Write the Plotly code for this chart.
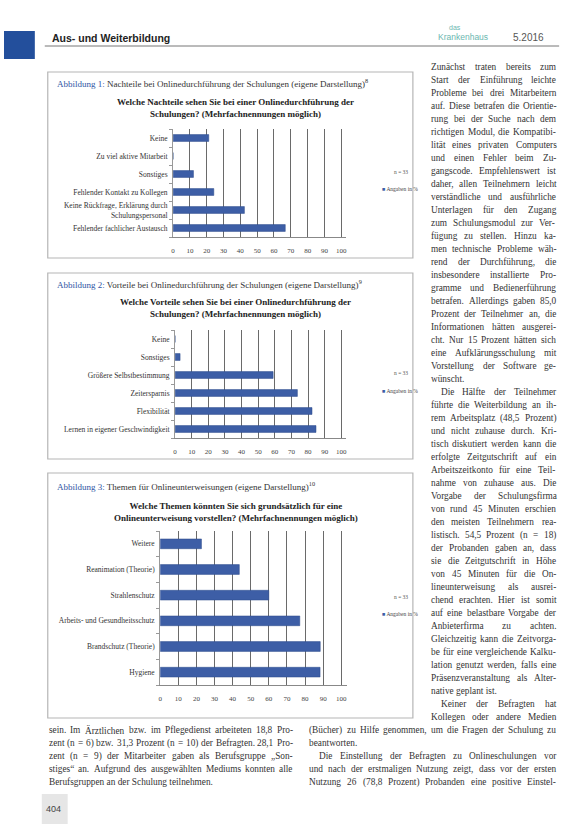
import plotly.graph_objects as go

W, H = 586, 824

# ---------------- data ----------------
cats1 = ["Keine", "Zu viel aktive Mitarbeit", "Sonstiges", "Fehlender Kontakt zu Kollegen",
         "Keine Rückfrage, Erklärung durch<br>Schulungspersonal", "Fehlender fachlicher Austausch"]
vals1 = [21.2, 0, 12.1, 24.2, 42.4, 66.7]

cats2 = ["Keine", "Sonstiges", "Größere Selbstbestimmung", "Zeitersparnis", "Flexibilität",
         "Lernen in eigener Geschwindigkeit"]
vals2 = [0, 3.0, 59.0, 73.6, 82.4, 84.8]

cats3 = ["Weitere", "Reanimation (Theorie)", "Strahlenschutz", "Arbeits- und Gesundheitsschutz",
         "Brandschutz (Theorie)", "Hygiene"]
vals3 = [22.8, 43.7, 60.0, 77.1, 88.4, 88.3]

x_ticks = [0, 10, 20, 30, 40, 50, 60, 70, 80, 90, 100]

captions = [
    "<span style='color:#2f55a4'>Abbildung 1:</span> Nachteile bei Onlinedurchführung der Schulungen (eigene Darstellung)<sup>8</sup>",
    "<span style='color:#2f55a4'>Abbildung 2:</span> Vorteile bei Onlinedurchführung der Schulungen (eigene Darstellung)<sup>9</sup>",
    "<span style='color:#2f55a4'>Abbildung 3:</span> Themen für Onlineunterweisungen (eigene Darstellung)<sup>10</sup>",
]
titles = [
    "Welche Nachteile sehen Sie bei einer Onlinedurchführung der<br>Schulungen? (Mehrfachnennungen möglich)",
    "Welche Vorteile sehen Sie bei einer Onlinedurchführung der<br>Schulungen? (Mehrfachnennungen möglich)",
    "Welche Themen könnten Sie sich grundsätzlich für eine<br>Onlineunterweisung vorstellen? (Mehrfachnennungen möglich)",
]
n_label = "n = 33"
legend_label = "Angaben in %"

# ">" = indented first line of a paragraph, "|" = last line of a paragraph (not justified)
right_col = [
    "Zunächst traten bereits zum",
    "Start der Einführung leichte",
    "Probleme bei drei Mitarbeitern",
    "auf. Diese betrafen die Orientie-",
    "rung bei der Suche nach dem",
    "richtigen Modul, die Kompatibi-",
    "lität eines privaten Computers",
    "und einen Fehler beim Zu-",
    "gangscode. Empfehlenswert ist",
    "daher, allen Teilnehmern leicht",
    "verständliche und ausführliche",
    "Unterlagen für den Zugang",
    "zum Schulungsmodul zur Ver-",
    "fügung zu stellen. Hinzu ka-",
    "men technische Probleme wäh-",
    "rend der Durchführung, die",
    "insbesondere installierte Pro-",
    "gramme und Bedienerführung",
    "betrafen. Allerdings gaben 85,0",
    "Prozent der Teilnehmer an, die",
    "Informationen hätten ausgerei-",
    "cht. Nur 15 Prozent hätten sich",
    "eine Aufklärungsschulung mit",
    "Vorstellung der Software ge-",
    "wünscht.|",
    ">Die Hälfte der Teilnehmer",
    "führte die Weiterbildung an ih-",
    "rem Arbeitsplatz (48,5 Prozent)",
    "und nicht zuhause durch. Kri-",
    "tisch diskutiert werden kann die",
    "erfolgte Zeitgutschrift auf ein",
    "Arbeitszeitkonto für eine Teil-",
    "nahme von zuhause aus. Die",
    "Vorgabe der Schulungsfirma",
    "von rund 45 Minuten erschien",
    "den meisten Teilnehmern rea-",
    "listisch. 54,5 Prozent (n = 18)",
    "der Probanden gaben an, dass",
    "sie die Zeitgutschrift in Höhe",
    "von 45 Minuten für die On-",
    "lineunterweisung als ausrei-",
    "chend erachten. Hier ist somit",
    "auf eine belastbare Vorgabe der",
    "Anbieterfirma zu achten.",
    "Gleichzeitig kann die Zeitvorga-",
    "be für eine vergleichende Kalku-",
    "lation genutzt werden, falls eine",
    "Präsenzveranstaltung als Alter-",
    "native geplant ist.|",
    ">Keiner der Befragten hat",
    "Kollegen oder andere Medien",
]
bottom_left = [
    "sein. Im Ärztlichen bzw. im Pflegedienst arbeiteten 18,8 Pro-",
    "zent (n = 6) bzw. 31,3 Prozent (n = 10) der Befragten. 28,1 Pro-",
    "zent (n = 9) der Mitarbeiter gaben als Berufsgruppe „Son-",
    "stiges“ an. Aufgrund des ausgewählten Mediums konnten alle",
    "Berufsgruppen an der Schulung teilnehmen.|",
]
bottom_right = [
    "(Bücher) zu Hilfe genommen, um die Fragen der Schulung zu",
    "beantworten.|",
    ">Die Einstellung der Befragten zu Onlineschulungen vor",
    "und nach der erstmaligen Nutzung zeigt, dass vor der ersten",
    "Nutzung 26 (78,8 Prozent) Probanden eine positive Einstel-",
]

# ---------------- helpers ----------------
def px(x):
    return x / W

def py(y):
    return 1 - y / H

BAR = "#3d5ea6"
SERIF = "Liberation Serif"
SANS = "Liberation Sans"
TXT = "#333333"

# Times / Liberation Serif advance widths (per 1000 em)
_w = {" ": 250, "!": 333, '"': 408, "(": 333, ")": 333, ",": 250, "-": 333, ".": 250,
      "/": 278, ":": 278, ";": 278, "=": 564, "?": 444, "%": 833,
      "„": 444, "“": 444, "”": 444}
for ch in "0123456789":
    _w[ch] = 500
for ch, v in zip("ABCDEFGHIJKLMNOPQRSTUVWXYZ",
                 [722, 667, 667, 722, 611, 556, 722, 722, 333, 389, 722, 611, 889, 722, 722,
                  556, 722, 667, 556, 611, 722, 722, 944, 722, 722, 611]):
    _w[ch] = v
for ch, v in zip("abcdefghijklmnopqrstuvwxyz",
                 [444, 500, 444, 500, 444, 333, 500, 500, 278, 278, 500, 278, 778, 500, 500,
                  500, 500, 333, 389, 278, 500, 500, 722, 500, 500, 444]):
    _w[ch] = v
_w.update({"ä": 444, "ö": 500, "ü": 500, "ß": 500, "Ä": 722, "Ö": 722, "Ü": 722})

def tw(s, size):
    return sum(_w.get(c, 500) for c in s) * size / 1000.0

BODY_SIZE = 9.3
BODY = dict(family=SERIF, size=BODY_SIZE, color=TXT)
annotations = []

def body_line(raw, x0, x1, y):
    indent = raw.startswith(">")
    last = raw.endswith("|")
    line = raw.strip(">|")
    if indent:
        x0 += 10
    words = line.split(" ")
    sp = tw(" ", BODY_SIZE)
    if last or len(words) == 1:
        annotations.append(dict(x=px(x0), y=py(y), xref="paper", yref="paper", text=line,
                                showarrow=False, xanchor="left", yanchor="middle",
                                borderpad=0, font=BODY))
        return
    widths = [tw(wd, BODY_SIZE) for wd in words]
    gap = (x1 - x0 - sum(widths)) / (len(words) - 1)
    gap = max(gap, 0.6 * sp)
    x = x0
    for wd, wv in zip(words, widths):
        annotations.append(dict(x=px(x), y=py(y), xref="paper", yref="paper", text=wd,
                                showarrow=False, xanchor="left", yanchor="middle",
                                borderpad=0, font=BODY))
        x += wv + gap

# chart geometry (pixels): x of value 0, x of value 100, top, bottom of plot area
charts = [
    dict(cats=cats1, vals=vals1, x0=172, x100=341, top=129, bot=237),
    dict(cats=cats2, vals=vals2, x0=174, x100=341, top=330, bot=438),
    dict(cats=cats3, vals=vals3, x0=159, x100=341, top=531, bot=685),
]
boxes = [(46, 72, 413, 258), (46, 273, 413, 459), (46, 473, 413, 718)]
cap_y = [83, 284, 486]
title_y = [108, 308, 512]
leg_y = [(172, 189), (373, 391), (597, 614)]

fig = go.Figure()
layout = dict(
    width=W, height=H, autosize=False,
    margin=dict(l=0, r=0, t=0, b=0),
    paper_bgcolor="white", plot_bgcolor="white",
    showlegend=False,
)
XMAX = 103
shapes = []

for i, c in enumerate(charts):
    k = "" if i == 0 else str(i + 1)
    n = len(c["cats"])
    ypos = list(range(n - 1, -1, -1))
    fig.add_trace(go.Bar(
        x=c["vals"], y=ypos, orientation="h", width=0.38,
        marker=dict(color=BAR, line=dict(color="#2c4a8a", width=0.5)),
        xaxis="x" + k, yaxis="y" + k, hoverinfo="x",
    ))
    xr = c["x0"] + (c["x100"] - c["x0"]) * XMAX / 100
    layout["xaxis" + k] = dict(
        domain=[px(c["x0"]), px(xr)], anchor="y" + k,
        range=[0, XMAX], tickvals=x_ticks, ticks="", ticklabelstandoff=7,
        tickfont=dict(family=SERIF, size=7, color="#444"),
        showgrid=True, gridcolor="#6a6a6a", gridwidth=0.8,
        zeroline=False, showline=True, linecolor="#888", linewidth=1,
        fixedrange=True,
    )
    layout["yaxis" + k] = dict(
        domain=[py(c["bot"]), py(c["top"])], anchor="x" + k,
        range=[-0.5, n - 0.5], tickvals=ypos, ticktext=c["cats"],
        tickfont=dict(family=SERIF, size=7.5, color="#333"), ticklabelstandoff=3,
        showgrid=False, zeroline=False, showline=True, linecolor="#999",
        ticks="", minor=dict(ticks="outside", tick0=0.5, dtick=1, ticklen=3,
                             tickcolor="#999", showgrid=False),
        fixedrange=True,
    )
    bx0, by0, bx1, by1 = boxes[i]
    shapes.append(dict(type="rect", xref="paper", yref="paper",
                       x0=px(bx0), x1=px(bx1), y0=py(by1), y1=py(by0),
                       line=dict(color="#b5b5b5", width=1.2), fillcolor="rgba(0,0,0,0)", layer="below"))
    annotations.append(dict(x=px(bx0 + 7), y=py(cap_y[i]), xref="paper", yref="paper",
                            text=captions[i], showarrow=False, xanchor="left", yanchor="middle",
                            font=dict(family=SERIF, size=9, color="#333")))
    annotations.append(dict(x=px(235), y=py(title_y[i]), xref="paper", yref="paper",
                            text="<b>" + titles[i] + "</b>", showarrow=False,
                            xanchor="center", yanchor="middle", align="center",
                            font=dict(family=SERIF, size=9, color="#222")))
    annotations.append(dict(x=px(392), y=py(leg_y[i][0]), xref="paper", yref="paper",
                            text=n_label, showarrow=False, xanchor="left", yanchor="middle",
                            font=dict(family=SERIF, size=5.5, color="#555")))
    annotations.append(dict(x=px(380), y=py(leg_y[i][1]), xref="paper", yref="paper",
                            text="<span style='color:%s'>■</span> %s" % (BAR, legend_label),
                            showarrow=False, xanchor="left", yanchor="middle",
                            font=dict(family=SERIF, size=5.5, color="#444")))

# header
shapes.append(dict(type="rect", xref="paper", yref="paper", x0=px(2), x1=px(33),
                   y0=py(59), y1=py(31), line=dict(width=0), fillcolor="#234f9c"))
shapes.append(dict(type="line", xref="paper", yref="paper", x0=px(43), x1=px(560),
                   y0=py(46), y1=py(46), line=dict(color="#777", width=1)))
annotations.append(dict(x=px(48), y=py(38), xref="paper", yref="paper",
                        text="<b>Aus- und Weiterbildung</b>", showarrow=False,
                        xanchor="left", yanchor="middle",
                        font=dict(family=SANS, size=10.5, color="#222")))
annotations.append(dict(x=px(455), y=py(27), xref="paper", yref="paper",
                        text="das", showarrow=False, xanchor="center", yanchor="middle",
                        font=dict(family=SANS, size=7, color="#6bb7b0")))
annotations.append(dict(x=px(463), y=py(37), xref="paper", yref="paper",
                        text="Krankenhaus", showarrow=False, xanchor="center", yanchor="middle",
                        font=dict(family=SANS, size=8.5, color="#6bb7b0")))
annotations.append(dict(x=px(529), y=py(38), xref="paper", yref="paper",
                        text="5.2016", showarrow=False, xanchor="center", yanchor="middle",
                        font=dict(family=SANS, size=10, color="#555")))

# body text (justified word by word)
LEAD = 13.0
for j, line in enumerate(right_col):
    body_line(line, 430, 556, 67 + j * LEAD)
y_bottom = 67 + len(right_col) * LEAD
for j, line in enumerate(bottom_left):
    body_line(line, 46, 291, y_bottom + j * LEAD)
for j, line in enumerate(bottom_right):
    body_line(line, 308, 556, y_bottom + j * LEAD)

# page number
shapes.append(dict(type="rect", xref="paper", yref="paper", x0=px(40), x1=px(66),
                   y0=py(824), y1=py(794), line=dict(width=0), fillcolor="#e6e6e6"))
annotations.append(dict(x=px(52), y=py(809), xref="paper", yref="paper",
                        text="404", showarrow=False, xanchor="center", yanchor="middle",
                        font=dict(family=SANS, size=9, color="#444")))

layout["annotations"] = annotations
layout["shapes"] = shapes
fig.update_layout(**layout)
fig.write_html("out.html", config={"displayModeBar": False},
               post_script="document.body.style.margin='0';")
